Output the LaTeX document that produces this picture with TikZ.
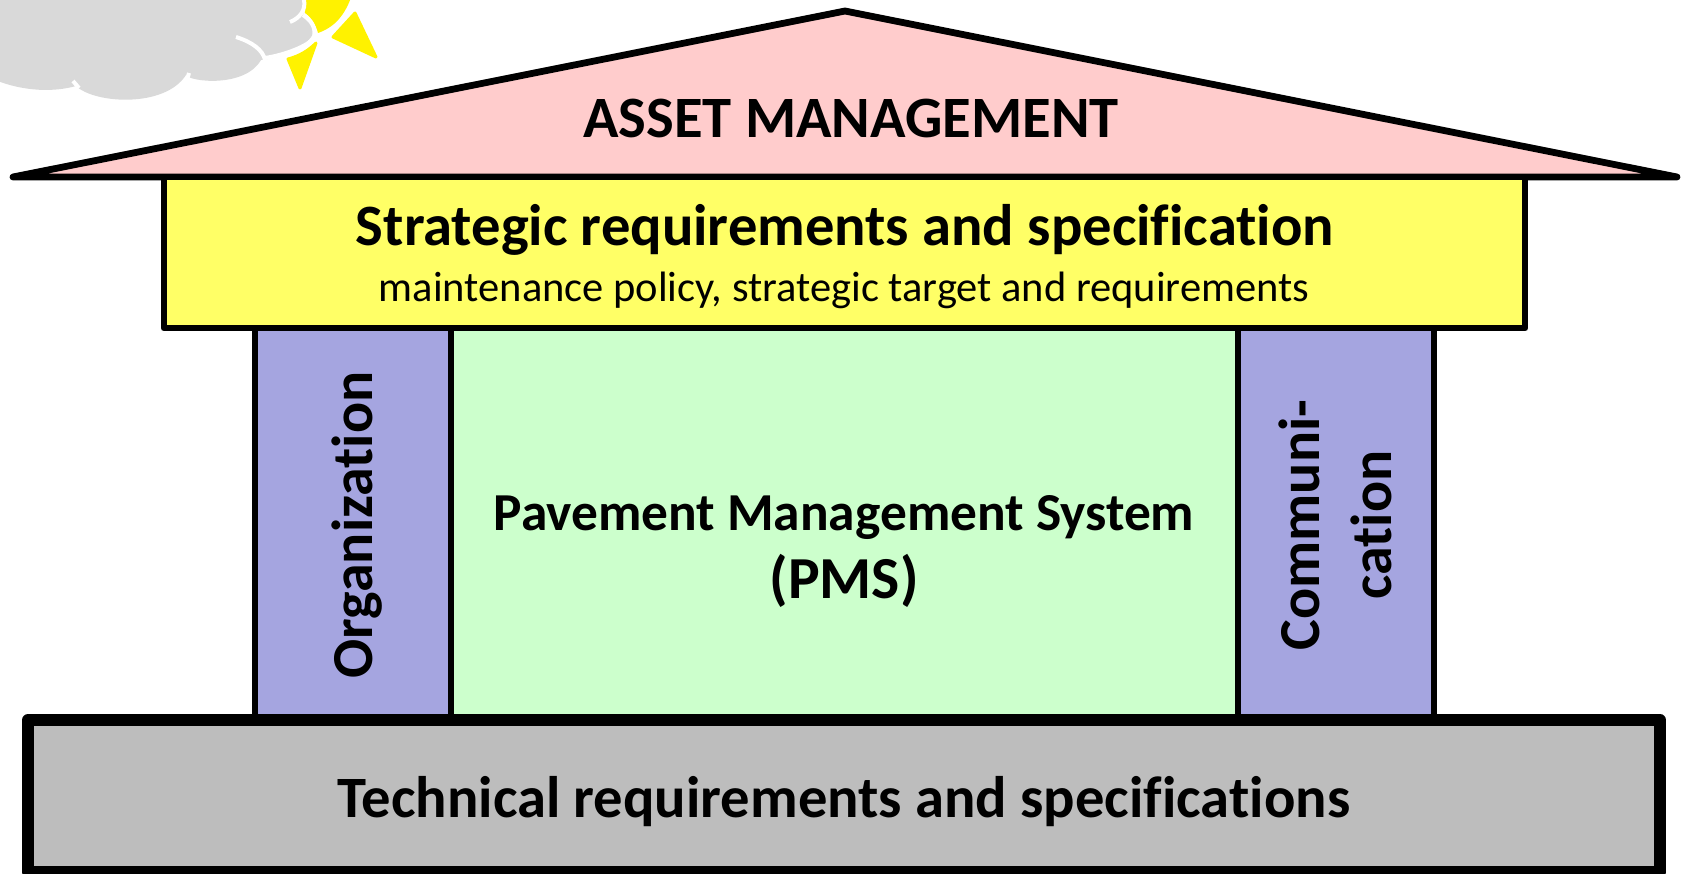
\documentclass[tikz,border=0pt]{standalone}
\usepackage{fontspec}
\setmainfont[RawFeature={-liga}]{Carlito}
\definecolor{roofc}{HTML}{FFCCCC}
\definecolor{stratc}{HTML}{FFFF66}
\definecolor{pillc}{HTML}{A5A5E0}
\definecolor{pmsc}{HTML}{CCFFCC}
\definecolor{basec}{HTML}{BDBDBD}
\definecolor{cloudc}{HTML}{D9D9D9}
\tikzset{
  x=1pt,y=-1pt,
  part/.style={draw=black,line width=6.8pt,line join=round,outer sep=0pt,inner sep=0pt,anchor=north west},
  lab/.style={font=\bfseries,text=black,inner sep=0pt,align=center},
  cloudarc/.style={draw=white,line width=4pt},
  sunray/.style={fill=yellow,draw=yellow,line width=3pt,line join=round}
}
\begin{document}
\begin{tikzpicture}
\useasboundingbox (0,0) rectangle (1681,874);
% sun and cloud
\begin{scope}
\clip (0,0) rectangle (1681,874);
\fill[yellow] (300,-5) -- (352,-5) .. controls (345,15) and (335,27) .. (318,33) .. controls (316,25) and (312,18) .. (305,13) -- cycle;
\draw[sunray] (355,13) -- (376,57) -- (333,37) -- cycle;
\draw[sunray] (316,43) -- (300,88) -- (288,59) .. controls (300,56) and (309,50) .. (316,43) -- cycle;
\fill[cloudc] (-5,80) .. controls (25,92) and (55,92) .. (76,86)
  .. controls (95,104) and (165,108) .. (186,75)
  .. controls (190,82) and (245,88) .. (261,60)
  .. controls (283,58) and (312,45) .. (314,30)
  .. controls (313,25) and (310,20) .. (303,16)
  .. controls (305,12) and (305,5) .. (303,-5) -- (-5,-5) -- cycle;
\draw[cloudarc] (79,88) -- (73,81);
\draw[cloudarc] (187,80) -- (189,73);
\draw[cloudarc] (236,37) .. controls (252,42) and (263,50) .. (265,60);
\draw[cloudarc] (290,22) .. controls (300,18) and (306,10) .. (304,0);
\draw[cloudarc] (303,15) .. controls (312,21) and (316,28) .. (314,38) .. controls (308,46) and (285,55) .. (265,58);
\end{scope}
% pillars
\node[part,fill=pillc,minimum width=196pt,minimum height=392pt] (org) at (255,328) {};
\node[part,fill=pmsc,minimum width=787pt,minimum height=392pt] (pms) at (451,328) {};
\node[part,fill=pillc,minimum width=196pt,minimum height=392pt] (comm) at (1238,328) {};
% roof
\draw[part,fill=roofc,line cap=round] (13,177) -- (845,11) -- (1677,177) -- cycle;
% strategic
\node[part,fill=stratc,minimum width=1361pt,minimum height=151pt] (strat) at (164,177) {};
% base
\node[part,line width=12pt,fill=basec,minimum width=1632pt,minimum height=152pt] (base) at (28,720) {};
% texts
\node[lab,font=\fontsize{58.6}{70}\selectfont\bfseries] (troof) at (851,118) {ASSET MANAGEMENT};
\node[lab,font=\fontsize{58.6}{70}\selectfont\bfseries] (tstrat) at (845,230) {Strategic requirements and specification};
\node[text=black,inner sep=0pt,font=\fontsize{42.5}{50}\selectfont] (tsub) at (844,290) {maintenance policy, strategic target and requirements};
\node[lab,font=\fontsize{53.4}{68}\selectfont\bfseries] (tpms) at (844,551) {Pavement Management System\\\fontsize{59.6}{68}\selectfont (PMS)};
\node[lab,rotate=90,font=\fontsize{58}{70}\selectfont\bfseries] (torg) at (357,525) {Organization};
\node[lab,rotate=90,font=\fontsize{58}{72}\selectfont\bfseries] (tcomm) at (1335,525) {Communi-\\cation};
\node[lab,font=\fontsize{58.6}{70}\selectfont\bfseries] (tbase) at (844,802) {Technical requirements and specifications};
\end{tikzpicture}
\end{document}
